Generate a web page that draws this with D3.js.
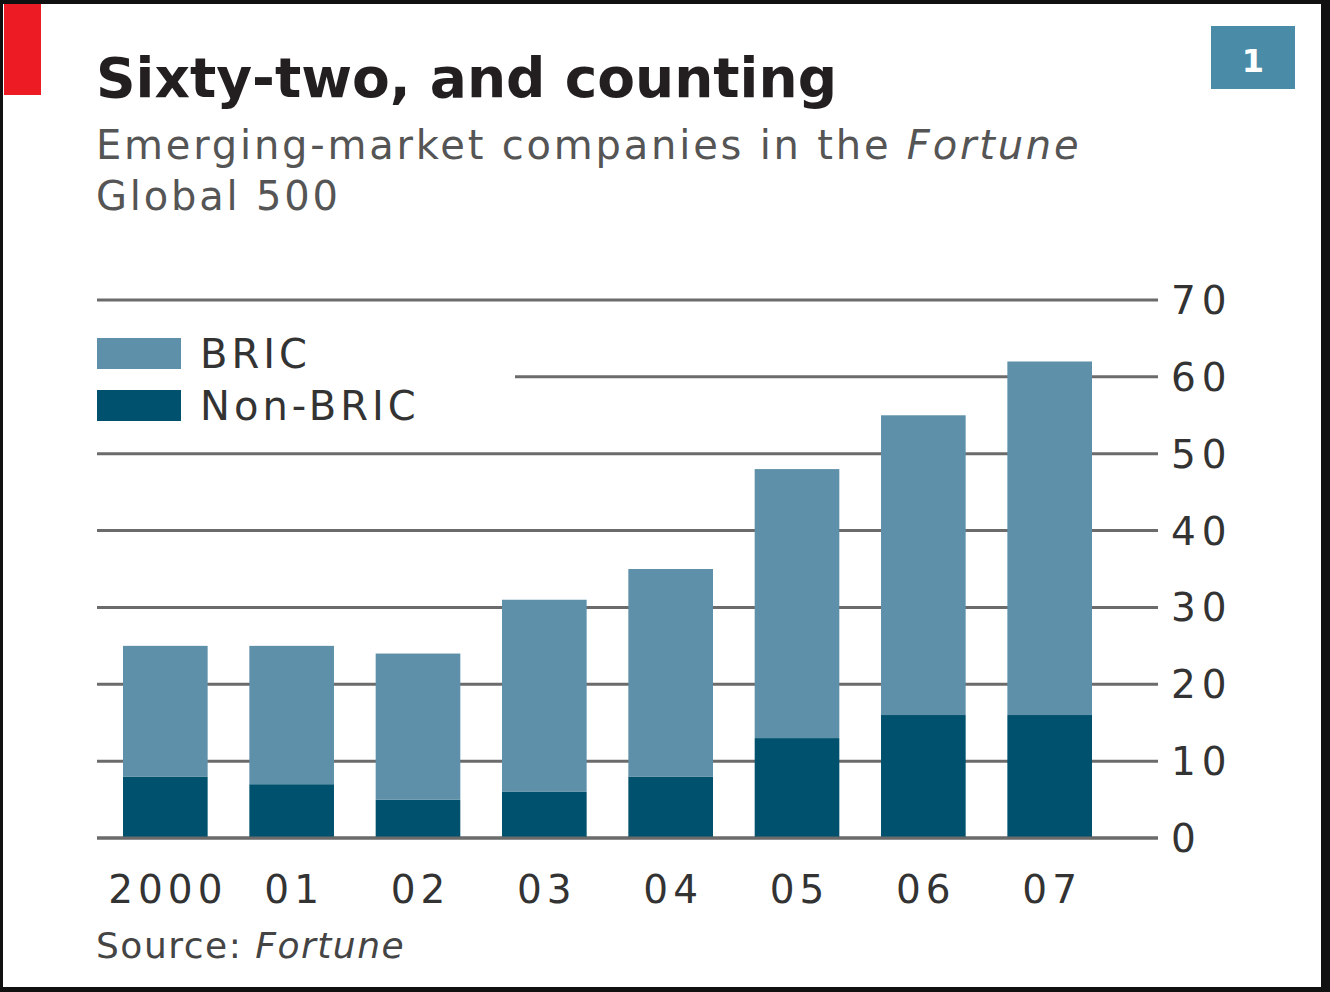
<!DOCTYPE html>
<html>
<head>
<meta charset="utf-8">
<script src="https://cdn.jsdelivr.net/npm/d3@7"></script>
<style>
  body { margin: 0; background: #fff; }
  text { font-family: "DejaVu Sans", sans-serif; }
</style>
</head>
<body>
<div id="chart"></div>
<script>

// Data
var years = ["2000", "01", "02", "03", "04", "05", "06", "07"];
var nonBric = [8, 7, 5, 6, 8, 13, 16, 16];
var bric = [17, 18, 19, 25, 27, 35, 39, 46];
var yTicks = [0, 10, 20, 30, 40, 50, 60, 70];
var seriesNames = ["Non-BRIC", "BRIC"];

var width = 1330,
    height = 992;

var colors = {"BRIC": "#5e91a9", "Non-BRIC": "#00516e"};

var svg = d3.select("#chart").append("svg")
    .attr("width", width)
    .attr("height", height);

// Frame
svg.append("rect")
    .attr("width", width)
    .attr("height", height)
    .style("fill", "#111");

svg.append("rect")
    .attr("x", 3)
    .attr("y", 4)
    .attr("width", 1318)
    .attr("height", 983)
    .style("fill", "#fff");

// Red tag
svg.append("rect")
    .attr("x", 4)
    .attr("y", 4)
    .attr("width", 37)
    .attr("height", 91)
    .style("fill", "#ec1b24");

// Title and subtitle
svg.append("text")
    .attr("x", 96)
    .attr("y", 97)
    .style("font-size", "55px")
    .style("font-weight", "bold")
    .style("fill", "#231f20")
    .text("Sixty-two, and counting");

var sub = svg.append("text")
    .attr("x", 96)
    .attr("y", 159)
    .style("font-size", "40px")
    .style("fill", "#555")
    .style("letter-spacing", "2.8px");
sub.append("tspan").text("Emerging-market companies in the ");
sub.append("tspan").style("font-style", "italic").text("Fortune");

svg.append("text")
    .attr("x", 96)
    .attr("y", 210)
    .style("font-size", "40px")
    .style("fill", "#555")
    .style("letter-spacing", "2.8px")
    .text("Global 500");

// Chart number box
svg.append("rect")
    .attr("x", 1211)
    .attr("y", 26)
    .attr("width", 84)
    .attr("height", 63)
    .style("fill", "#4a8ca8");

svg.append("text")
    .attr("x", 1253)
    .attr("y", 72)
    .style("font-size", "32px")
    .style("font-weight", "bold")
    .style("fill", "#fff")
    .style("text-anchor", "middle")
    .text("1");

// Scales
var x = d3.scaleBand()
    .domain(years)
    .range([123, 1092])
    .paddingInner(0.33)
    .paddingOuter(0);

var y = d3.scaleLinear()
    .domain([0, 70])
    .range([838, 300]);

// Grid lines with y axis on the right
svg.append("g")
    .selectAll("line")
    .data(yTicks)
    .enter().append("line")
    .attr("x1", function(d) { return d === 60 ? 515 : 97; })
    .attr("x2", 1158)
    .attr("y1", function(d) { return y(d); })
    .attr("y2", function(d) { return y(d); })
    .style("stroke", "#6b6b6b")
    .style("stroke-width", 3);

svg.append("g")
    .selectAll("text")
    .data(yTicks)
    .enter().append("text")
    .attr("x", 1171)
    .attr("y", function(d) { return y(d); })
    .attr("dy", "0.36em")
    .style("font-size", "39px")
    .style("letter-spacing", "6px")
    .style("fill", "#333")
    .text(function(d) { return d; });

// Stacked bars
var rows = years.map(function(yr, i) {
    return {year: yr, "Non-BRIC": nonBric[i], "BRIC": bric[i]};
});

var stacked = d3.stack().keys(seriesNames)(rows);

svg.append("g")
    .selectAll("g")
    .data(stacked)
    .enter().append("g")
    .style("fill", function(d) { return colors[d.key]; })
    .selectAll("rect")
    .data(function(d) { return d; })
    .enter().append("rect")
    .attr("x", function(d) { return x(d.data.year); })
    .attr("width", x.bandwidth())
    .attr("y", function(d) { return y(d[1]); })
    .attr("height", function(d) { return y(d[0]) - y(d[1]); });

// Baseline over bars
svg.append("line")
    .attr("x1", 97)
    .attr("x2", 1158)
    .attr("y1", y(0))
    .attr("y2", y(0))
    .style("stroke", "#6b6b6b")
    .style("stroke-width", 3);

// X axis labels (letter-spacing shifts the centre, so offset by half)
svg.append("g")
    .selectAll("text")
    .data(years)
    .enter().append("text")
    .attr("x", function(d) { return x(d) + x.bandwidth() / 2 + 2.5; })
    .attr("y", 903)
    .style("font-size", "39px")
    .style("letter-spacing", "5px")
    .style("text-anchor", "middle")
    .style("fill", "#333")
    .text(function(d) { return d; });

// Legend
var legend = svg.append("g")
    .selectAll("g")
    .data(["BRIC", "Non-BRIC"])
    .enter().append("g")
    .attr("transform", function(d, i) { return "translate(97," + (338 + i * 52) + ")"; });

legend.append("rect")
    .attr("width", 84)
    .attr("height", 31)
    .style("fill", function(d) { return colors[d]; });

legend.append("text")
    .attr("x", 103)
    .attr("y", 30)
    .style("font-size", "40px")
    .style("letter-spacing", "4px")
    .style("fill", "#333")
    .text(function(d) { return d; });

// Source
var source = svg.append("text")
    .attr("x", 96)
    .attr("y", 958)
    .style("font-size", "36px")
    .style("letter-spacing", "1.5px")
    .style("fill", "#444");
source.append("tspan").text("Source: ");
source.append("tspan").style("font-style", "italic").text("Fortune");

</script>
</body>
</html>
